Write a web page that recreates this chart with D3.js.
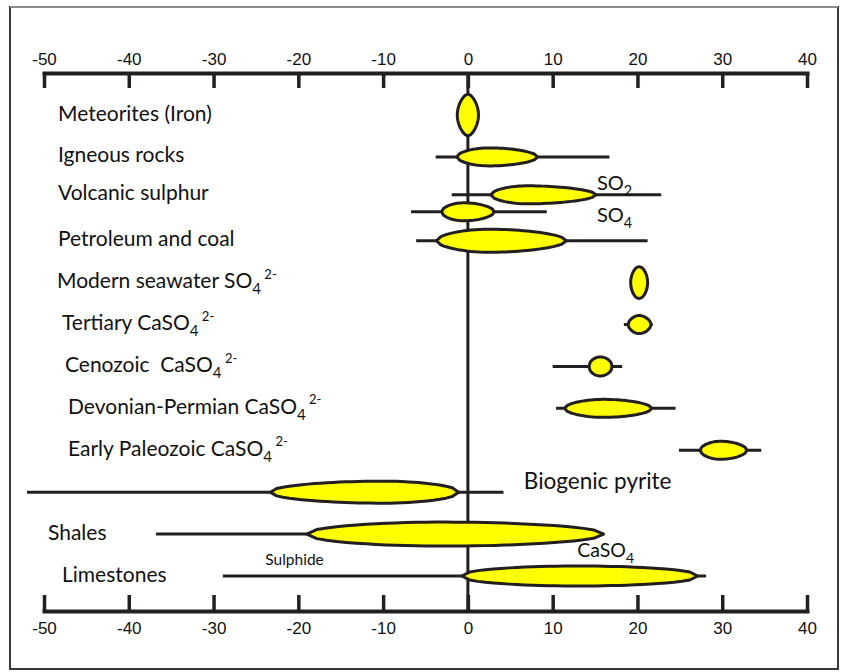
<!DOCTYPE html>
<html>
<head>
<meta charset="utf-8">
<script src="https://cdn.jsdelivr.net/npm/d3@7"></script>
<style>
  html, body { margin: 0; padding: 0; background: #ffffff; }
  svg { display: block; }
  text { white-space: pre; }
</style>
</head>
<body>
<svg id="chart" width="841" height="672"></svg>
<script>
// δ34S ranges (‰) of sulphur reservoirs
const categories = [
  "Meteorites (Iron)",
  "Igneous rocks",
  "Volcanic sulphur",
  "Petroleum and coal",
  "Modern seawater SO_{4}^{ 2-}",
  "Tertiary CaSO_{4}^{ 2-}",
  "Cenozoic  CaSO_{4}^{ 2-}",
  "Devonian-Permian CaSO_{4}^{ 2-}",
  "Early Paleozoic CaSO_{4}^{ 2-}",
  "Biogenic pyrite",
  "Shales",
  "Limestones"
];

// one entry per drawn range: category, sub-series tag, full range, common range, mode
const seriesCategory = [
  "Meteorites (Iron)", "Igneous rocks", "Volcanic sulphur", "Volcanic sulphur",
  "Petroleum and coal", "Modern seawater SO_{4}^{ 2-}", "Tertiary CaSO_{4}^{ 2-}",
  "Cenozoic  CaSO_{4}^{ 2-}", "Devonian-Permian CaSO_{4}^{ 2-}",
  "Early Paleozoic CaSO_{4}^{ 2-}", "Biogenic pyrite", "Shales", "Limestones"
];
const seriesTag   = [null, null, "SO_{2}", "SO_{4}", null, null, null, null, null, null, null, null, null];
const whiskerLow  = [null, -3.8, -1.9, -6.7, -6.1, null, 18.4, 10.0, 10.4, 24.9, -52.0, -36.8, -28.9];
const whiskerHigh = [null, 16.7, 22.8,  9.3, 21.2, null, 21.8, 18.2, 24.5, 34.6,   4.2,  16.0,  28.1];
const coreLow     = [-1.25, -1.3,  2.7, -3.1, -3.7, 19.2, 18.9, 14.3, 11.4, 27.4, -23.3, -19.0, -0.7];
const coreHigh    = [ 1.25,  8.2, 15.1,  3.1, 11.6, 21.2, 21.6, 17.0, 21.7, 32.9,  -1.1,  16.0, 27.1];
const coreMode    = [ 0.0,  2.5,  7.0, -0.5,  2.5, 20.2, 20.2, 15.6, 16.0, 29.8, -10.0,  -3.0, 13.0];

const tickValues = [-50, -40, -30, -20, -10, 0, 10, 20, 30, 40];

// annotations written beside the bars
const notes = [
  { text: "Biogenic pyrite", category: "Biogenic pyrite", value: 6.6 },
  { text: "Sulphide", category: "Limestones", value: -23.9 },
  { text: "CaSO_{4}", category: "Limestones", value: 12.9 }
];

// ---- drawing styles and layout ----
const INK = "#231f20";
const FILL = "#ffff00";
const LABEL_FONT = "Lato, 'Open Sans', sans-serif";
const TICK_FONT = "'Liberation Sans', Arial, sans-serif";
const LABEL_SIZE = 21;

// half-thickness (px) of each filled body, and shape fullness
const bodyStyle = {
  "Meteorites (Iron)": { h: 21, p: 0.6, vertical: true },
  "Modern seawater SO_{4}^{ 2-}": { h: 16, p: 0.5, vertical: true },
  "Cenozoic  CaSO_{4}^{ 2-}": { h: 9.5, p: 0.45 },
  "Tertiary CaSO_{4}^{ 2-}": { h: 9, p: 0.55 },
  "Petroleum and coal": { h: 11.5, p: 0.5 },
  "Biogenic pyrite": { h: 11, p: 0.45 },
  "Shales": { h: 12, p: 0.45 },
  "Limestones": { h: 10, p: 0.4 }
};
const defaultBody = { h: 9, p: 0.5 };

// indentation of the category labels
const labelX = {
  "Meteorites (Iron)": 58, "Igneous rocks": 58, "Volcanic sulphur": 58,
  "Petroleum and coal": 58, "Modern seawater SO_{4}^{ 2-}": 57,
  "Tertiary CaSO_{4}^{ 2-}": 62, "Cenozoic  CaSO_{4}^{ 2-}": 65,
  "Devonian-Permian CaSO_{4}^{ 2-}": 68, "Early Paleozoic CaSO_{4}^{ 2-}": 68,
  "Shales": 48, "Limestones": 62
};

const svg = d3.select("#chart");

// frame
svg.append("rect")
  .attr("x", 10).attr("y", 7).attr("width", 828).attr("height", 662)
  .attr("fill", "#ffffff").attr("stroke", "#3a3a3a").attr("stroke-width", 2);
svg.append("line")
  .attr("x1", 10).attr("x2", 838).attr("y1", 7).attr("y2", 7)
  .attr("stroke", "#8a8a8a").attr("stroke-width", 2);

const x = d3.scaleLinear().domain([-50, 40]).range([44, 807]);
const y = d3.scalePoint().domain(categories).range([115, 576]);
const sub = d3.scalePoint().domain(["SO_{2}", "SO_{4}"]).range([-4, 13]);

const rowY = i => y(seriesCategory[i]) + (seriesTag[i] ? sub(seriesTag[i]) : 0);

// rich text: _{..} subscript, ^{..} superscript; the baseline is restored on the next run
function rich(sel, str, size) {
  const re = /(_\{[^}]*\}|\^\{[^}]*\})/;
  let pending = 0;
  str.split(re).filter(s => s.length).forEach(part => {
    let txt = part, fs = size, shift = 0;
    if (part.startsWith("_{")) { txt = part.slice(2, -1); fs = size * 0.72; shift = size * 0.3; }
    else if (part.startsWith("^{")) { txt = part.slice(2, -1); fs = size * 0.62; shift = -size * 0.45; }
    sel.append("tspan").text(txt).attr("font-size", fs).attr("dy", pending + shift);
    pending = -shift;
  });
}

// axes
const axisTop = d3.axisTop(x).tickValues(tickValues).tickFormat(d => String(d))
  .tickSizeInner(-15).tickSizeOuter(0).tickPadding(8);
const axisBottom = d3.axisBottom(x).tickValues(tickValues).tickFormat(d => String(d))
  .tickSizeInner(-16).tickSizeOuter(0).tickPadding(11);

function styleAxis(g) {
  g.select(".domain").attr("stroke", INK).attr("stroke-width", 4).attr("stroke-linecap", "square");
  g.selectAll(".tick line").attr("stroke", INK).attr("stroke-width", 3.5);
  g.selectAll(".tick text").attr("fill", "#111").attr("font-family", TICK_FONT).attr("font-size", 17);
}
svg.append("g").attr("transform", "translate(0,73)").call(axisTop).call(styleAxis);
svg.append("g").attr("transform", "translate(0,611)").call(axisBottom).call(styleAxis);

// zero line
svg.append("line")
  .attr("x1", x(0)).attr("x2", x(0)).attr("y1", 73).attr("y2", 611)
  .attr("stroke", INK).attr("stroke-width", 3);

const idx = d3.range(seriesCategory.length);

// full ranges
svg.append("g").selectAll("line")
  .data(idx.filter(i => whiskerLow[i] !== null))
  .join("line")
  .attr("x1", i => x(whiskerLow[i])).attr("x2", i => x(whiskerHigh[i]))
  .attr("y1", rowY).attr("y2", rowY)
  .attr("stroke", INK).attr("stroke-width", 3);

// filled bodies
function bodyPath(i) {
  const st = bodyStyle[seriesCategory[i]] || defaultBody;
  const cy = rowY(i);
  const x0 = x(coreLow[i]), x1 = x(coreHigh[i]), xm = x(coreMode[i]);
  const n = 30;
  const prof = s => Math.pow(Math.sin(Math.max(0, Math.min(1, s)) * Math.PI / 2), st.p);
  const pts = [];
  if (st.vertical) {
    const cx = xm, w = (x1 - x0) / 2;
    const y0 = cy - st.h, y1 = cy + st.h;
    const along = d3.range(n + 1).map(k => y0 + (y1 - y0) * k / n);
    along.forEach(yy => pts.push([cx + w * prof(1 - Math.abs(yy - cy) / st.h), yy]));
    along.slice().reverse().forEach(yy => pts.push([cx - w * prof(1 - Math.abs(yy - cy) / st.h), yy]));
  } else {
    const along = d3.range(n + 1).map(k => x0 + (x1 - x0) * k / n);
    const thick = xx => st.h * (xx <= xm ? prof((xx - x0) / (xm - x0)) : prof((x1 - xx) / (x1 - xm)));
    along.forEach(xx => pts.push([xx, cy - thick(xx)]));
    along.slice().reverse().forEach(xx => pts.push([xx, cy + thick(xx)]));
  }
  return d3.line().curve(d3.curveLinearClosed)(pts);
}
svg.append("g").selectAll("path")
  .data(idx)
  .join("path")
  .attr("d", bodyPath)
  .attr("fill", FILL).attr("stroke", INK).attr("stroke-width", 3)
  .attr("stroke-linejoin", "round");

// category labels
categories.filter(c => labelX[c] !== undefined).forEach(c => {
  const rows = idx.filter(i => seriesCategory[i] === c).map(rowY);
  const t = svg.append("text")
    .attr("x", labelX[c]).attr("y", d3.min(rows) - 2 + LABEL_SIZE * 0.36)
    .attr("font-family", LABEL_FONT).attr("font-size", LABEL_SIZE).attr("fill", "#111");
  rich(t, c, LABEL_SIZE);
});

// sub-series tags beside volcanic sulphur
const tagged = idx.filter(i => seriesTag[i]);
tagged.forEach((i, k) => {
  const t = svg.append("text")
    .attr("x", x(coreHigh[tagged[0]]) + 1)
    .attr("y", rowY(i) + (k === 0 ? -5 : 10))
    .attr("font-family", LABEL_FONT).attr("font-size", 20).attr("fill", "#111");
  rich(t, seriesTag[i], 20);
});

// annotations
notes.forEach(n => {
  const big = n.text === "Biogenic pyrite";
  const small = n.text === "Sulphide";
  const size = big ? 22.5 : (small ? 15.5 : 19.5);
  const t = svg.append("text")
    .attr("x", x(n.value))
    .attr("y", y(n.category) + (big ? -3 : (small ? -11 : -19)))
    .attr("font-family", LABEL_FONT).attr("font-size", size).attr("fill", "#111");
  rich(t, n.text, size);
});
</script>
</body>
</html>
